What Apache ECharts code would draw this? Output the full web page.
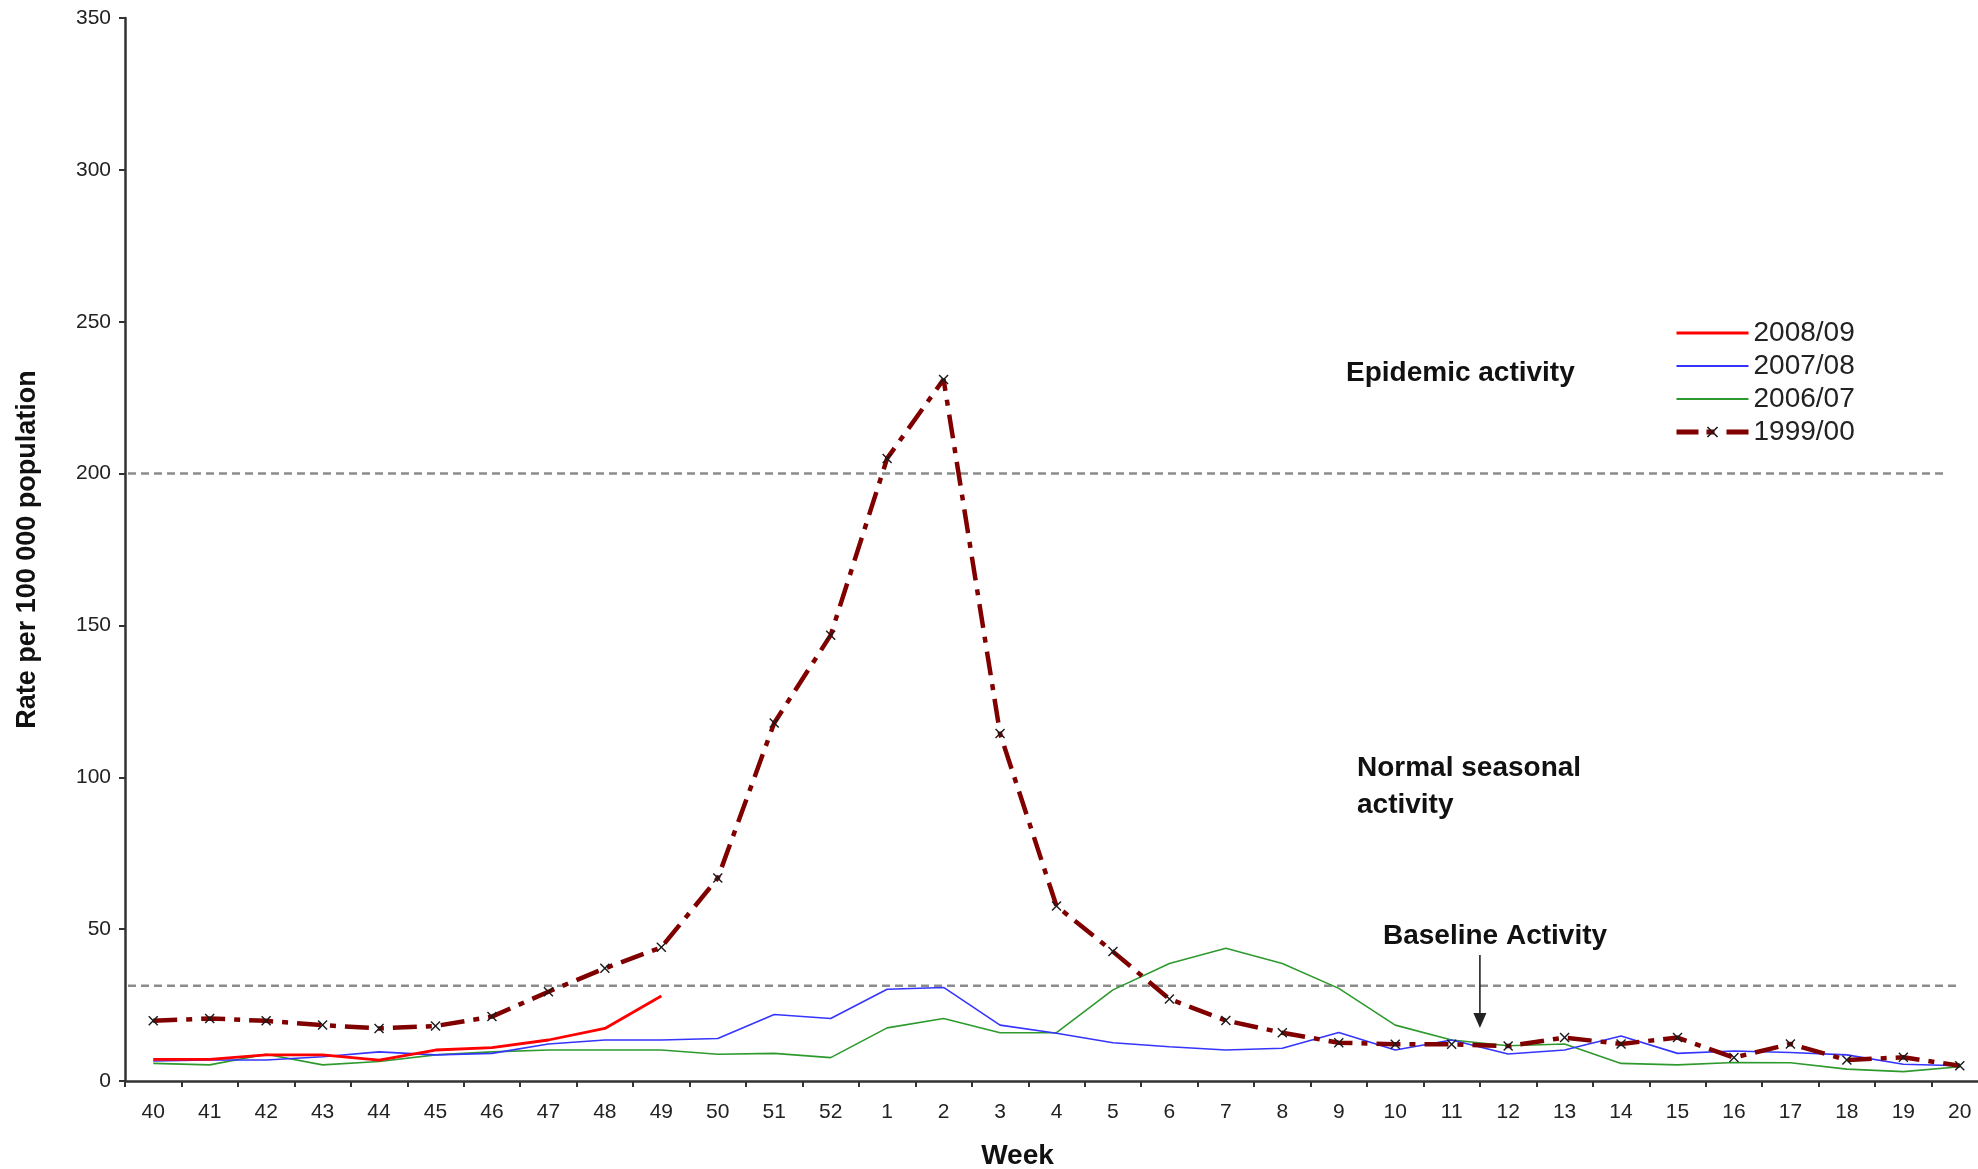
<!DOCTYPE html>
<html>
<head>
<meta charset="utf-8">
<title>Influenza-like illness rate per 100 000 population</title>
<script src="https://cdn.jsdelivr.net/npm/echarts@6/dist/echarts.min.js"></script>
<style>
  html, body { margin: 0; padding: 0; background: #ffffff; }
  #chart { width: 1978px; height: 1169px; }
</style>
</head>
<body>
<div id="chart"></div>
<script>
// Surveillance weeks: week 40 of one year through week 20 of the next
const weeks = ['40','41','42','43','44','45','46','47','48','49','50','51','52',
  '1','2','3','4','5','6','7','8','9','10','11','12','13','14','15','16','17','18','19','20'];

// Weekly rates per 100 000 population, by season
const rate2008_09 = [7.1, 7.1, 8.6, 8.6, 6.9, 10.2, 11.0, 13.5, 17.3, 28.0];

const rate2007_08 = [6.6, 6.9, 6.9, 8.0, 9.6, 8.6, 9.1, 12.2, 13.5, 13.5, 14.0, 21.9, 20.6,
  30.2, 30.8, 18.4, 15.7, 12.6, 11.3, 10.2, 10.8, 16.0, 10.2, 13.5, 8.9, 10.2, 14.8,
  9.1, 9.9, 9.4, 8.6, 5.5, 5.0];

const rate2006_07 = [5.8, 5.3, 8.8, 5.3, 6.4, 8.6, 9.6, 10.2, 10.2, 10.2, 8.8, 9.1, 7.7,
  17.5, 20.6, 15.9, 15.9, 30.0, 38.7, 43.7, 38.7, 30.5, 18.4, 13.5, 11.6, 12.2, 5.8,
  5.3, 6.1, 6.0, 3.9, 3.1, 4.7];

const rate1999_00 = [19.8, 20.6, 19.8, 18.4, 17.3, 18.1, 21.2, 29.4, 37.1, 44.0, 66.8, 117.9, 146.8,
  205.0, 231.0, 114.4, 57.6, 42.6, 27.0, 19.9, 15.9, 12.6, 12.1, 12.1, 11.5, 14.3, 12.2,
  14.3, 7.7, 12.2, 6.9, 7.8, 5.0];

// Activity thresholds
const epidemicThreshold = 200;
const baselineThreshold = 31.4;

// Y axis ticks
const yMin = 0, yMax = 350, yStep = 50;

const FONT = '"Liberation Sans", Arial, sans-serif';
const crossSymbol = 'path://M1,0 L5,4 L9,0 L10,1 L6,5 L10,9 L9,10 L5,6 L1,10 L0,9 L4,5 L0,1 Z';

const COLOR_0809 = '#ff0000';
const COLOR_0708 = '#3535ff';
const COLOR_0607 = '#2e9a2e';
const COLOR_9900 = '#800000';
const DASH_9900 = [24, 9, 6, 9];

const chart = echarts.init(document.getElementById('chart'), null, { renderer: 'canvas' });

const option = {
  animation: false,
  backgroundColor: '#ffffff',
  textStyle: { fontFamily: FONT },
  grid: { left: 125, right: -10, top: 18, bottom: 88, containLabel: false, outerBoundsMode: 'none' },
  legend: {
    orient: 'vertical',
    left: 1669,
    top: 314,
    itemWidth: 72,
    itemHeight: 14,
    itemGap: 5,
    data: [
      { name: '2008/09', itemStyle: { opacity: 0 }, lineStyle: { color: COLOR_0809, width: 3 } },
      { name: '2007/08', itemStyle: { opacity: 0 }, lineStyle: { color: COLOR_0708, width: 2 } },
      { name: '2006/07', itemStyle: { opacity: 0 }, lineStyle: { color: COLOR_0607, width: 2 } },
      { name: '1999/00', lineStyle: { color: COLOR_9900, width: 5, type: [22, 8, 8, 12] } }
    ],
    textStyle: { fontFamily: FONT, fontSize: 28, lineHeight: 28, color: '#222222' }
  },
  xAxis: {
    type: 'category',
    data: weeks,
    boundaryGap: true,
    name: 'Week',
    nameLocation: 'middle',
    nameGap: 61,
    nameTextStyle: { fontFamily: FONT, fontSize: 28, fontWeight: 'bold', color: '#111111', padding: [0, 78, 0, 0] },
    axisLine: { show: true, lineStyle: { color: '#333333', width: 2.5 } },
    axisTick: { show: true, length: 6, alignWithLabel: false, interval: 0, lineStyle: { color: '#333333', width: 2 } },
    axisLabel: { interval: 0, fontFamily: FONT, fontSize: 21, color: '#222222', margin: 21 },
    splitLine: { show: false }
  },
  yAxis: {
    type: 'value',
    min: yMin,
    max: yMax,
    interval: yStep,
    name: 'Rate per 100 000 population',
    nameLocation: 'middle',
    nameRotate: 90,
    nameGap: 84,
    nameTextStyle: { fontFamily: FONT, fontSize: 27, fontWeight: 'bold', color: '#111111' },
    axisLine: { show: true, lineStyle: { color: '#333333', width: 2.5 } },
    axisTick: { show: true, length: 6, lineStyle: { color: '#333333', width: 2 } },
    axisLabel: { fontFamily: FONT, fontSize: 21, color: '#222222', margin: 14 },
    splitLine: { show: false }
  },
  series: [
    {
      name: '2008/09',
      type: 'line',
      data: rate2008_09,
      symbol: 'none',
      z: 4,
      lineStyle: { color: COLOR_0809, width: 2.8 },
      itemStyle: { color: COLOR_0809 }
    },
    {
      name: '2007/08',
      type: 'line',
      data: rate2007_08,
      symbol: 'none',
      z: 3,
      lineStyle: { color: COLOR_0708, width: 1.6 },
      itemStyle: { color: COLOR_0708 }
    },
    {
      name: '2006/07',
      type: 'line',
      data: rate2006_07,
      symbol: 'none',
      z: 2,
      lineStyle: { color: COLOR_0607, width: 1.6 },
      itemStyle: { color: COLOR_0607 }
    },
    {
      name: '1999/00',
      type: 'line',
      data: rate1999_00,
      symbol: crossSymbol,
      symbolSize: 10,
      showAllSymbol: true,
      z: 5,
      lineStyle: { color: COLOR_9900, width: 4.5, type: DASH_9900 },
      itemStyle: { color: '#1a1a1a' }
    }
  ]
};

chart.setOption(option);

// Threshold lines, annotations and the arrow pointing at the baseline
const yEpidemic = chart.convertToPixel({ yAxisIndex: 0 }, epidemicThreshold);
const yBaseline = chart.convertToPixel({ yAxisIndex: 0 }, baselineThreshold);
const xArrow = (chart.convertToPixel({ xAxisIndex: 0 }, '11') + chart.convertToPixel({ xAxisIndex: 0 }, '12')) / 2;

const dashStyle = { stroke: '#8c8c8c', lineWidth: 2.5, lineDash: [8, 5] };
const labelStyle = { fontFamily: FONT, fontSize: 28, fontWeight: 'bold', fill: '#111111', verticalAlign: 'middle' };

chart.setOption({
  graphic: [
    { type: 'line', shape: { x1: 128, y1: yEpidemic, x2: 1948, y2: yEpidemic }, style: dashStyle, z: 1 },
    { type: 'line', shape: { x1: 128, y1: yBaseline, x2: 1961, y2: yBaseline }, style: dashStyle, z: 1 },
    { type: 'text', left: 1346, top: 359, style: Object.assign({ text: 'Epidemic activity' }, labelStyle) },
    { type: 'text', left: 1357, top: 750, style: Object.assign({ text: 'Normal seasonal\nactivity', lineHeight: 37 }, labelStyle) },
    { type: 'text', left: 1383, top: 922, style: Object.assign({ text: 'Baseline Activity' }, labelStyle) },
    { type: 'line', shape: { x1: xArrow, y1: 955, x2: xArrow, y2: 1016 }, style: { stroke: '#222222', lineWidth: 1.6 }, z: 10 },
    { type: 'polygon', shape: { points: [[xArrow - 6.5, 1013], [xArrow + 6.5, 1013], [xArrow, 1028]] }, style: { fill: '#222222' }, z: 10 }
  ]
});
</script>
</body>
</html>
